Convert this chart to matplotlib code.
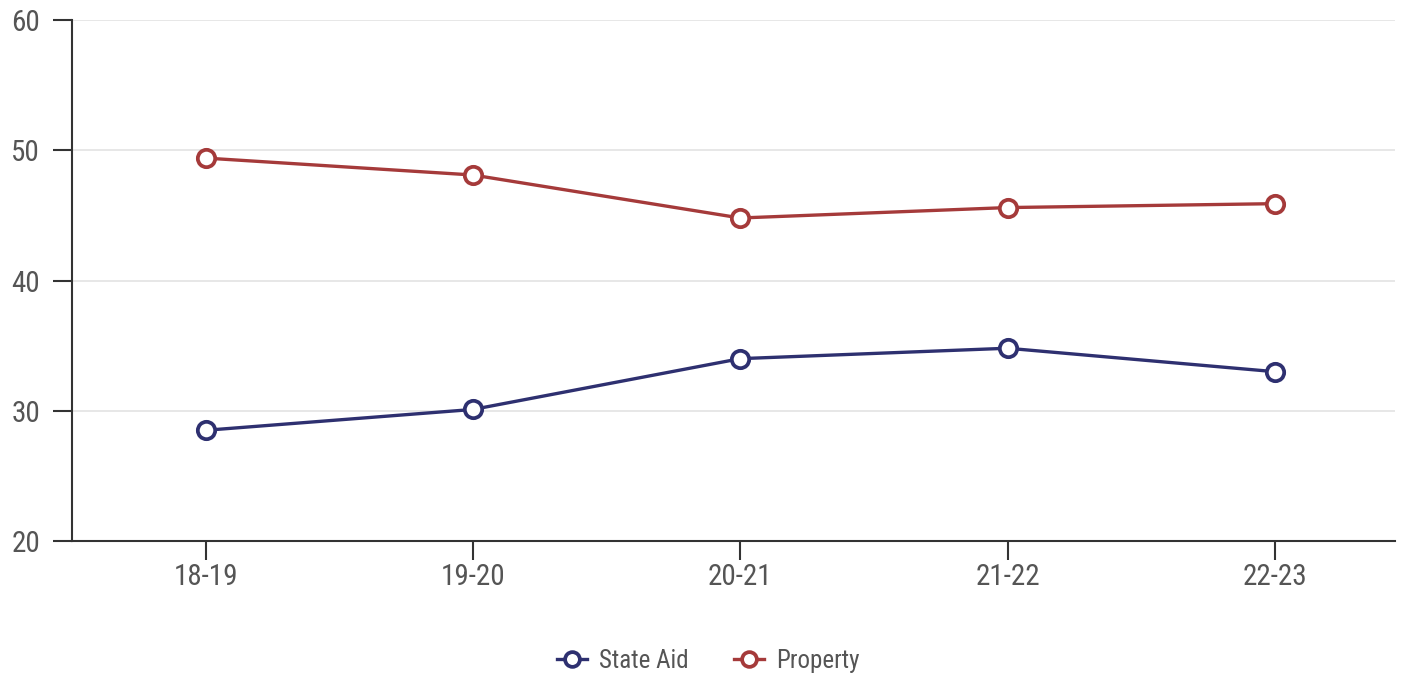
import matplotlib
matplotlib.use('Agg')
import matplotlib.pyplot as plt
from matplotlib import font_manager

names = {f.name for f in font_manager.fontManager.ttflist}
font = 'Roboto'
for cand in ['Roboto Condensed', 'Liberation Sans Narrow', 'DejaVu Sans Condensed']:
    if cand in names:
        font = cand
        break
plt.rcParams['font.family'] = [font, 'DejaVu Sans']

years = ['18-19', '19-20', '20-21', '21-22', '22-23']
state_aid = [28.5, 30.1, 34.0, 34.8, 33.0]
property_tax = [49.4, 48.1, 44.8, 45.6, 45.9]

navy = '#2e3070'
red = '#a53a3a'

fig = plt.figure(figsize=(14.05, 6.76), dpi=100)
ax = fig.add_axes([0.0512, 0.1997, 0.9418, 0.7707])

x = list(range(len(years)))
for vals, col, lab in [(state_aid, navy, 'State Aid'), (property_tax, red, 'Property')]:
    ax.plot(x, vals, color=col, lw=2.4, marker='o', ms=12.5, mfc='white',
            mec=col, mew=2.7, label=lab, zorder=3)

ax.set_xlim(-0.5, 4.45)
ax.set_ylim(20, 60)
ax.set_yticks([20, 30, 40, 50, 60])
ax.set_xticks(x)
ax.set_xticklabels(years)
ax.grid(axis='y', color='#e3e3e3', lw=1.2)
ax.set_axisbelow(True)
for s in ['top', 'right']:
    ax.spines[s].set_visible(False)
for s in ['left', 'bottom']:
    ax.spines[s].set_color('#333333')
    ax.spines[s].set_linewidth(1.5)
ax.tick_params(axis='both', length=14, width=1.5, color='#333333',
               labelsize=21, labelcolor='#555555')
ax.tick_params(axis='y', pad=9)
ax.tick_params(axis='x', pad=2)

fig.legend(*ax.get_legend_handles_labels(), loc='center', bbox_to_anchor=(0.504, 0.022),
           ncol=2, frameon=False, fontsize=18, labelcolor='#555555',
           handlelength=1.2, columnspacing=1.8, handletextpad=0.5,
           markerscale=0.85, borderpad=0, borderaxespad=0)

fig.savefig('out.png', dpi=100)
